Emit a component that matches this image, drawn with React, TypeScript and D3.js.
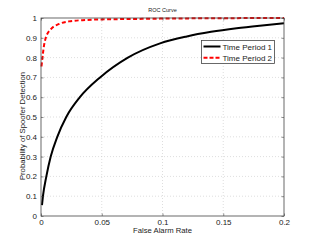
import React, { useRef, useEffect } from 'react';
import * as d3 from 'd3';

// Time Period 1 ROC points (false alarm rate, detection probability)
const fpr1 = [0.0008, 0.0016, 0.0044, 0.008, 0.0134, 0.0208, 0.032, 0.0486, 0.0715, 0.098, 0.12, 0.14, 0.161, 0.18, 0.2];
const tpr1 = [0.055, 0.1, 0.2, 0.3, 0.4, 0.5, 0.6, 0.7, 0.8, 0.872, 0.907, 0.93, 0.948, 0.961, 0.973];

// Time Period 2 ROC points
const fpr2 = [0.0004, 0.0027, 0.0041, 0.0082, 0.015, 0.023, 0.037, 0.05, 0.075, 0.1, 0.15, 0.2];
const tpr2 = [0.755, 0.869, 0.903, 0.944, 0.97, 0.983, 0.99, 0.993, 0.995, 0.997, 0.999, 1.0];

const xTicks = [0, 0.05, 0.1, 0.15, 0.2];
const yTicks = [0, 0.1, 0.2, 0.3, 0.4, 0.5, 0.6, 0.7, 0.8, 0.9, 1];
const seriesNames = ['Time Period 1', 'Time Period 2'];

const App = () => {
  const svgRef = useRef<SVGSVGElement>(null);

  const W = 314;
  const H = 244;
  const margin = { top: 18, right: 30, bottom: 28, left: 41 };
  const width = W - margin.left - margin.right;
  const height = H - margin.top - margin.bottom;

  useEffect(() => {
    const root = d3.select(svgRef.current);
    root.selectAll('*').remove();
    const font = 'Liberation Sans, Arial, sans-serif';

    const x = d3.scaleLinear().domain([0, 0.2]).range([0, width]);
    const y = d3.scaleLinear().domain([0, 1]).range([height, 0]);

    const svg = root.append('g').attr('transform', `translate(${margin.left},${margin.top})`);

    // white plot background
    svg.append('rect').attr('width', width).attr('height', height).attr('fill', '#fff');

    // dotted grid
    svg.append('g')
      .selectAll('line')
      .data(xTicks.slice(1, -1))
      .join('line')
      .attr('x1', (d) => x(d)).attr('x2', (d) => x(d))
      .attr('y1', 0).attr('y2', height)
      .attr('stroke', '#c8c8c8').attr('stroke-width', 0.6).attr('stroke-dasharray', '1,2');
    svg.append('g')
      .selectAll('line')
      .data(yTicks.slice(1, -1))
      .join('line')
      .attr('x1', 0).attr('x2', width)
      .attr('y1', (d) => y(d)).attr('y2', (d) => y(d))
      .attr('stroke', '#c8c8c8').attr('stroke-width', 0.6).attr('stroke-dasharray', '1,2');

    const mk = (xs: number[], ys: number[]) =>
      d3.line<number>()
        .x((d, i) => x(xs[i]))
        .y((d, i) => y(ys[i]))
        .curve(d3.curveMonotoneX)(xs);

    svg.append('path')
      .attr('d', mk(fpr1, tpr1))
      .attr('fill', 'none')
      .attr('stroke', '#000')
      .attr('stroke-width', 2);

    svg.append('path')
      .attr('d', mk(fpr2, tpr2))
      .attr('fill', 'none')
      .attr('stroke', '#ff0000')
      .attr('stroke-width', 2)
      .attr('stroke-dasharray', '4,2.5');

    // axes (ticks inward, matlab style)
    const tickLen = 2.5;
    svg.append('g')
      .attr('transform', `translate(0,${height})`)
      .call(d3.axisBottom(x).tickValues(xTicks).tickSize(-tickLen).tickPadding(3.5).tickFormat((d) => String(d)))
      .call((g) => g.select('.domain').remove());
    svg.append('g')
      .call(d3.axisTop(x).tickValues(xTicks).tickSize(-tickLen).tickFormat(() => ''))
      .call((g) => g.select('.domain').remove());
    svg.append('g')
      .call(d3.axisLeft(y).tickValues(yTicks).tickSize(-tickLen).tickPadding(4).tickFormat((d) => String(d)))
      .call((g) => g.select('.domain').remove());
    svg.append('g')
      .attr('transform', `translate(${width},0)`)
      .call(d3.axisRight(y).tickValues(yTicks).tickSize(-tickLen).tickFormat(() => ''))
      .call((g) => g.select('.domain').remove());

    svg.selectAll('.tick line').attr('stroke', '#444').attr('stroke-width', 0.6);
    svg.selectAll('.tick text').attr('fill', '#222').style('font-family', font).style('font-size', '8px');

    // box
    svg.append('rect')
      .attr('width', width).attr('height', height)
      .attr('fill', 'none').attr('stroke', '#444').attr('stroke-width', 0.8);

    // title
    svg.append('text')
      .attr('x', width / 2).attr('y', -6)
      .attr('text-anchor', 'middle')
      .style('font-family', font).style('font-size', '5.5px').attr('fill', '#222')
      .text('ROC Curve');

    // axis labels
    svg.append('text')
      .attr('x', width / 2).attr('y', height + 16.5)
      .attr('text-anchor', 'middle')
      .style('font-family', font).style('font-size', '7.7px').attr('fill', '#222')
      .text('False Alarm Rate');
    svg.append('text')
      .attr('transform', `translate(${-16.5},${108}) rotate(-90)`)
      .attr('text-anchor', 'middle')
      .style('font-family', font).style('font-size', '7.7px').attr('fill', '#222')
      .text('Probability of Spoofer Detection');

    // legend
    const lg = svg.append('g').attr('transform', `translate(${201.5 - margin.left},${40.5 - margin.top})`);
    lg.append('rect').attr('width', 73).attr('height', 23)
      .attr('fill', '#fff').attr('stroke', '#444').attr('stroke-width', 0.8);
    seriesNames.forEach((name, i) => {
      const yy = 6 + i * 11.3;
      lg.append('line')
        .attr('x1', 2).attr('x2', 19).attr('y1', yy).attr('y2', yy)
        .attr('stroke', i === 0 ? '#000' : '#ff0000').attr('stroke-width', 2)
        .attr('stroke-dasharray', i === 0 ? null : '4,2');
      lg.append('text')
        .attr('x', 21).attr('y', yy + 3)
        .style('font-family', font).style('font-size', '8px').attr('fill', '#222')
        .text(name);
    });
  }, []);

  return (
    <svg
      ref={svgRef}
      width={W}
      height={H}
      style={{ position: 'absolute', left: 0, top: 0, background: '#fff' }}
    />
  );
};

export default App;
